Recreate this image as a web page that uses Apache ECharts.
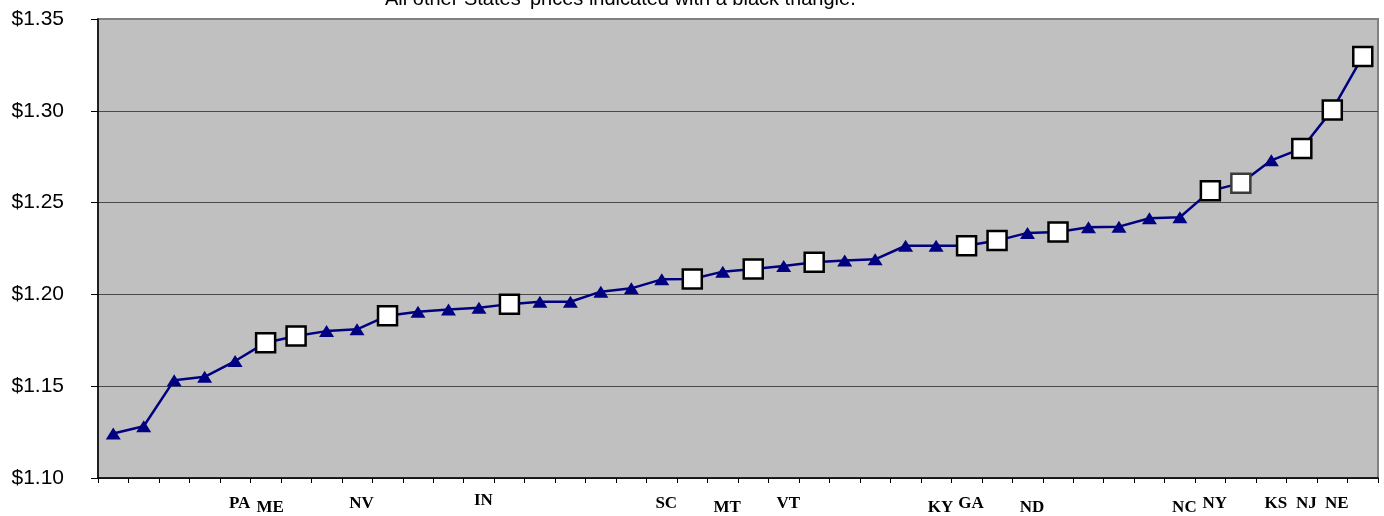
<!DOCTYPE html>
<html>
<head>
<meta charset="utf-8">
<script src="https://cdn.jsdelivr.net/npm/echarts@6/dist/echarts.min.js"></script>
<style>
  html, body { margin: 0; padding: 0; background: #ffffff; }
  #chart { width: 1384px; height: 516px; }
</style>
</head>
<body>
<div id="chart"></div>
<script>
// Highlighted states carry a label; every other state is left unnamed on the axis.
const states = [
  '', '', '', '', '', 'PA', 'ME', '', '', 'NV',
  '', '', '', 'IN', '', '', '', '', '', 'SC',
  '', 'MT', '', 'VT', '', '', '', '', 'KY', 'GA',
  '', 'ND', '', '', '', '', 'NC', 'NY', '', 'KS',
  'NJ', 'NE'
];

// Price per state, sorted ascending (dollars).
const prices = [
  1.1242, 1.1282, 1.1533, 1.1551, 1.1637, 1.1737, 1.1773, 1.1800, 1.1810, 1.1884,
  1.1905, 1.1918, 1.1927, 1.1947, 1.1960, 1.1960, 1.2015, 1.2033, 1.2082, 1.2084,
  1.2124, 1.2138, 1.2155, 1.2175, 1.2184, 1.2191, 1.2265, 1.2265, 1.2265, 1.2293,
  1.2335, 1.2340, 1.2366, 1.2369, 1.2415, 1.2420, 1.2564, 1.2606, 1.2730, 1.2795,
  1.3005, 1.3296
];

const yTicks = [1.10, 1.15, 1.20, 1.25, 1.30, 1.35];

const noteText = "All other States' prices indicated with a black triangle.";

// Label placement tweaks: some names sit slightly lower / higher.
const lowered = new Set(['ME', 'MT', 'KY', 'ND', 'NC']);
const raised = new Set(['IN']);

const chart = echarts.init(document.getElementById('chart'), null, { renderer: 'canvas' });

const seriesData = prices.map((v, i) => {
  const name = states[i];
  if (name) {
    return {
      value: v,
      symbol: 'rect',
      symbolSize: 19,
      itemStyle: {
        color: '#ffffff',
        borderColor: name === 'NY' ? '#3c3c3c' : '#000000',
        borderWidth: 2.5
      }
    };
  }
  return {
    value: v,
    symbol: 'triangle',
    symbolSize: [15, 12],
    itemStyle: { color: '#000080', borderWidth: 0 }
  };
});

const splitColors = yTicks.map((t, i) => (i === yTicks.length - 1 ? '#808080' : '#4a4a4a'));

const labelFont = {
  fontFamily: 'Liberation Serif, Times New Roman, serif',
  fontWeight: 'bold', fontSize: 17, color: '#000000'
};

chart.setOption({
  animation: false,
  backgroundColor: '#ffffff',
  title: {
    text: noteText,
    left: 380,
    top: -16,
    textStyle: {
      fontFamily: 'Liberation Sans, Arial, sans-serif',
      fontSize: 20,
      fontWeight: 'normal',
      color: '#000000'
    }
  },
  grid: {
    left: 98,
    right: 6,
    top: 19,
    bottom: 38,
    show: true,
    backgroundColor: '#c0c0c0',
    borderColor: '#808080',
    borderWidth: 2
  },
  xAxis: {
    type: 'category',
    data: states,
    boundaryGap: true,
    axisLine: { show: true, lineStyle: { color: '#000000', width: 1.5 } },
    axisTick: { show: true, alignWithLabel: false, interval: 0, length: 5, lineStyle: { color: '#000000', width: 1 } },
    splitLine: { show: false },
    axisLabel: {
      interval: 0,
      hideOverlap: false,
      margin: 13,
      formatter: function (name) {
        if (!name) return '';
        if (lowered.has(name)) return '{lo|' + name + '}';
        if (raised.has(name)) return '{hi|' + name + '}';
        return '{mid|' + name + '}';
      },
      rich: {
        mid: Object.assign({ padding: [4, 52, 0, 0] }, labelFont),
        lo: Object.assign({ padding: [8, 52, 0, 0] }, labelFont),
        hi: Object.assign({ padding: [1, 52, 0, 0] }, labelFont)
      }
    }
  },
  yAxis: {
    type: 'value',
    min: 1.10,
    max: 1.35,
    interval: 0.05,
    axisLine: { show: true, lineStyle: { color: '#000000', width: 1.5 } },
    axisTick: { show: true, length: 7, lineStyle: { color: '#000000', width: 1 } },
    splitLine: { show: true, lineStyle: { color: splitColors, width: 1 } },
    axisLabel: {
      margin: 34,
      fontFamily: 'Liberation Sans, Arial, sans-serif',
      fontSize: 21,
      color: '#000000',
      formatter: function (v) { return '$' + v.toFixed(2); }
    }
  },
  series: [{
    type: 'line',
    data: seriesData,
    lineStyle: { color: '#000080', width: 2.5 },
    showAllSymbol: true,
    z: 3
  }]
});
</script>
</body>
</html>
